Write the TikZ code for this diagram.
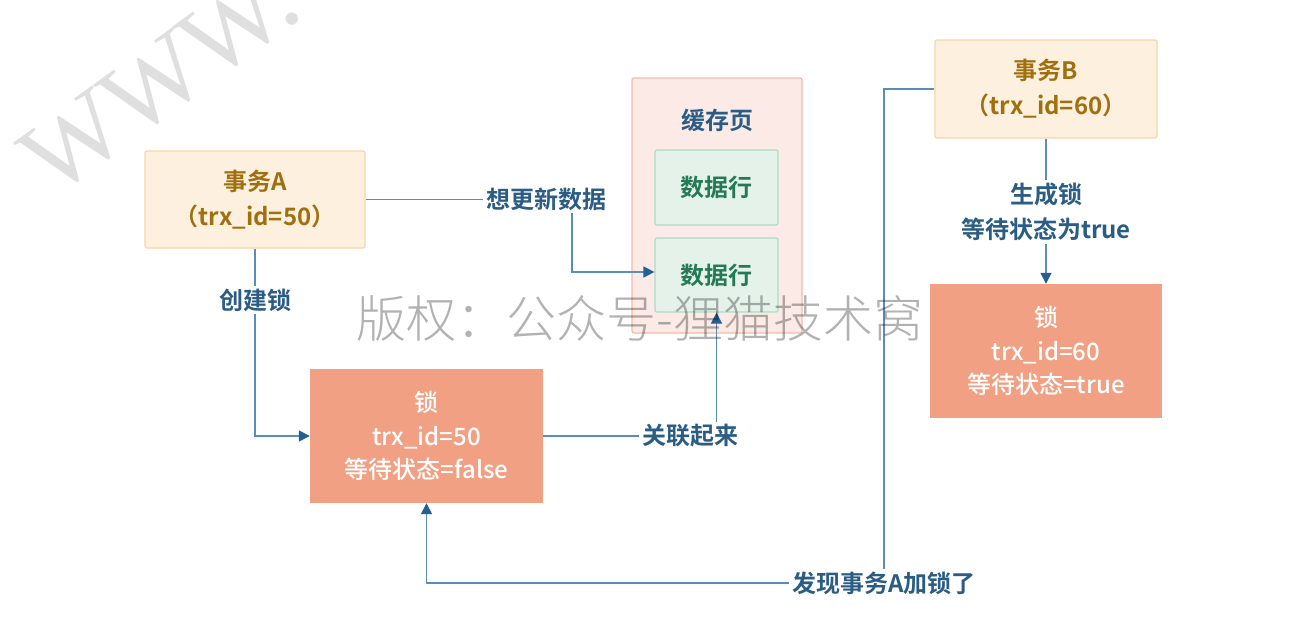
\documentclass[tikz,border=0pt]{standalone}
\usepackage{fontspec}
\setmainfont{Noto Sans CJK SC}[BoldFont={Noto Sans CJK SC Bold}]
\newfontfamily\medfont{Noto Sans CJK SC Medium}
\newfontfamily\lightfont{Noto Sans CJK SC Light}
\newfontfamily\wmserif{Liberation Serif}
\usetikzlibrary{arrows.meta}
\definecolor{txfill}{HTML}{FDF0DF}
\definecolor{txdraw}{HTML}{F8D6A8}
\definecolor{txtext}{HTML}{A0700E}
\definecolor{pgfill}{HTML}{FBEAE6}
\definecolor{pgdraw}{HTML}{F2BCAA}
\definecolor{rowfill}{HTML}{E4F2EA}
\definecolor{rowdraw}{HTML}{AEDCC3}
\definecolor{rowtext}{HTML}{237A55}
\definecolor{lockfill}{HTML}{F1A084}
\definecolor{linec}{HTML}{5B8DB8}
\definecolor{arrowc}{HTML}{22608F}
\definecolor{lbltext}{HTML}{2B5D84}
\tikzset{
  base/.style={font=\bfseries\fontsize{24}{35}\selectfont, align=center, inner sep=0pt},
  txbox/.style={base, draw=txdraw, fill=txfill, line width=1.2pt, text=txtext, rounded corners=2pt},
  pagebox/.style={draw=pgdraw, fill=pgfill, line width=1.2pt, rounded corners=2pt, inner sep=0pt},
  rowbox/.style={base, draw=rowdraw, fill=rowfill, line width=1.2pt, text=rowtext, rounded corners=2pt},
  lockbox/.style={base, fill=lockfill, text=white, font=\medfont\fontsize{24}{33.5}\selectfont},
  conn/.style={draw=linec, line width=1.5pt, -{Triangle[length=11pt,width=11pt,fill=arrowc,color=arrowc]}},
  lbl/.style={base, fill=white, text=lbltext, inner sep=3pt},
}
\begin{document}
\begin{tikzpicture}[x=1pt,y=-1pt]
\useasboundingbox (0,0) rectangle (1310,622);
\fill[white] (0,0) rectangle (1310,622);
% watermark top-left
\node[rotate=36, font=\wmserif\fontsize{104}{104}\selectfont, text=gray!25, inner sep=0pt] (wm1) at (160,80) {WWW.};
% boxes
\node[txbox, minimum width=220pt, minimum height=97pt] (ta) at (255,199.5) {事务A\\（trx\_id=50）};
\node[pagebox, minimum width=170pt, minimum height=255pt] (page) at (717,205.5) {};
\node[base, text=lbltext] (ptitle) at (717,120) {缓存页};
\node[rowbox, minimum width=123pt, minimum height=75pt] (row1) at (716.5,187.5) {数据行};
\node[rowbox, minimum width=123pt, minimum height=74pt] (row2) at (716.5,275) {数据行};
\node[txbox, minimum width=222pt, minimum height=98pt] (tb) at (1046,89) {事务B\\（trx\_id=60）};
\node[lockbox, minimum width=232pt, minimum height=134pt] (lockb) at (1046,351) {锁\\trx\_id=60\\等待状态=true};
\node[lockbox, minimum width=233pt, minimum height=134pt] (locka) at (426.5,436) {锁\\trx\_id=50\\等待状态=false};
% connectors
\coordinate (c1) at (572,272);
\coordinate (c2) at (884,583);
\draw[conn] (ta.east) -| (c1) -- (c1 -| row2.west);
\draw[conn] (ta.south) |- (locka.west);
\draw[conn] (locka.east) -| (row2.south);
\draw[conn] (tb.west) -| (c2) -| (locka.south);
\draw[conn] (tb.south) -- (lockb.north);
% labels
\node[lbl] (l1) at (546,199) {想更新数据};
\node[lbl] (l2) at (255,300) {创建锁};
\node[lbl] (l3) at (690,436) {关联起来};
\node[lbl] (l4) at (884,583) {发现事务A加锁了};
\node[lbl] (l5) at (1046,212) {生成锁\\等待状态为true};
% watermark centre
\node[font=\lightfont\fontsize{50}{50}\selectfont, text=black, text opacity=0.3, inner sep=0pt] (wm2) at (640,318) {版权：公众号-狸猫技术窝};
\end{tikzpicture}
\end{document}
